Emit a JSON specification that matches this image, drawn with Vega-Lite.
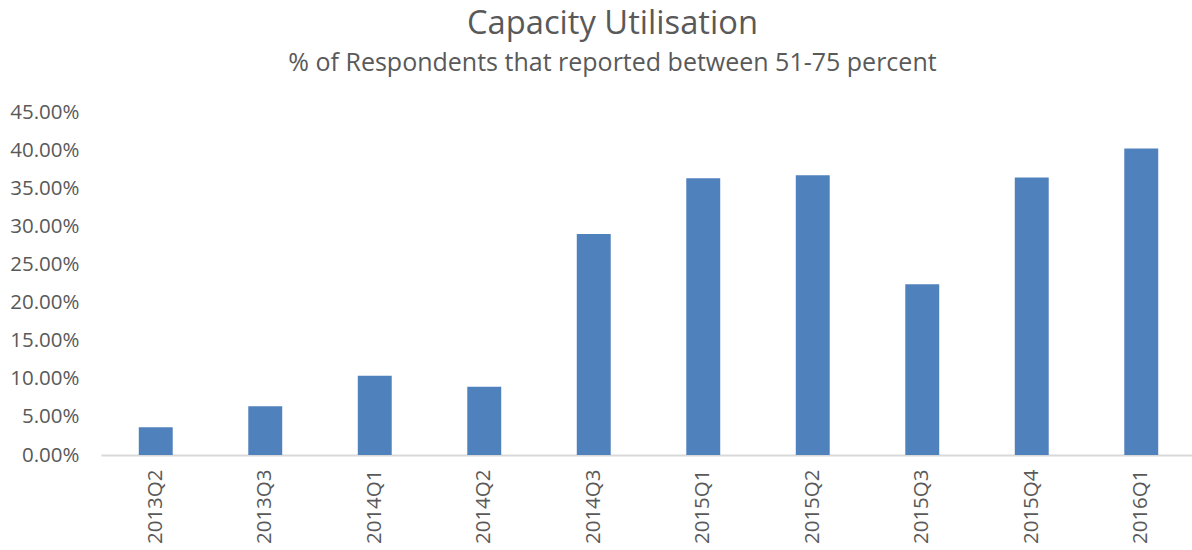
{
  "$schema": "https://vega.github.io/schema/vega-lite/v6.json",
  "autosize": {"type": "none"},
  "padding": {"left": 101, "top": 112, "right": 0, "bottom": 95},
  "width": 1095,
  "height": 343,
  "background": "white",
  "title": {
    "text": "Capacity Utilisation",
    "subtitle": "% of Respondents that reported between 51-75 percent",
    "anchor": "middle",
    "dx": -36,
    "offset": 26,
    "font": "Open Sans",
    "fontSize": 32.7,
    "fontWeight": "normal",
    "color": "#595959",
    "subtitleFont": "Open Sans",
    "subtitleFontSize": 25,
    "subtitleColor": "#595959",
    "subtitlePadding": 10
  },
  "data": {
    "values": [
      {"quarter": "2013Q2", "value": 0.0365},
      {"quarter": "2013Q3", "value": 0.064},
      {"quarter": "2014Q1", "value": 0.104},
      {"quarter": "2014Q2", "value": 0.0896},
      {"quarter": "2014Q3", "value": 0.290},
      {"quarter": "2015Q1", "value": 0.363},
      {"quarter": "2015Q2", "value": 0.367},
      {"quarter": "2015Q3", "value": 0.224},
      {"quarter": "2015Q4", "value": 0.364},
      {"quarter": "2016Q1", "value": 0.402}
    ]
  },
  "mark": {"type": "bar", "color": "#4F81BD"},
  "encoding": {
    "x": {
      "field": "quarter",
      "type": "nominal",
      "sort": null,
      "title": null,
      "scale": {"paddingInner": 0.69, "paddingOuter": 0.345},
      "axis": {
        "labelAngle": -90,
        "labelFont": "Open Sans",
        "labelFontSize": 20.5,
        "labelColor": "#595959",
        "labelPadding": 14,
        "ticks": false,
        "domainColor": "#D9D9D9",
        "domainWidth": 2,
        "grid": false
      }
    },
    "y": {
      "field": "value",
      "type": "quantitative",
      "title": null,
      "scale": {"domain": [0, 0.45], "nice": false},
      "axis": {
        "values": [0, 0.05, 0.1, 0.15, 0.2, 0.25, 0.3, 0.35, 0.4, 0.45],
        "format": ".2%",
        "labelFont": "Open Sans",
        "labelFontSize": 20.5,
        "labelColor": "#595959",
        "labelPadding": 22,
        "ticks": false,
        "domain": false,
        "grid": false
      }
    }
  },
  "config": {"view": {"stroke": null}}
}
